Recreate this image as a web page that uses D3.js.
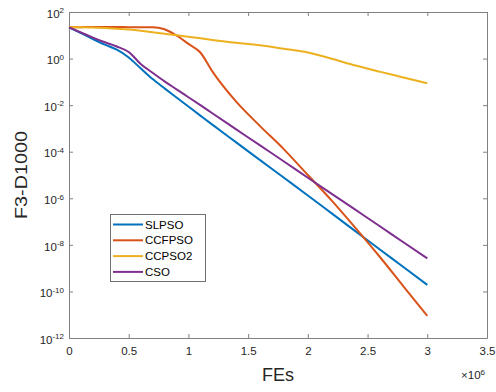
<!DOCTYPE html>
<html>
<head>
<meta charset="utf-8">
<script src="https://cdn.jsdelivr.net/npm/d3@7"></script>
<style>
  html, body { margin: 0; padding: 0; background: #fff; }
  svg { display: block; font-family: "Liberation Sans", Arial, Helvetica, sans-serif; }
</style>
</head>
<body>
<svg id="chart" width="496" height="392"></svg>
<script>
// Function evaluations at which the best fitness was recorded
const fes = [0, 1e5, 2e5, 3e5, 4e5, 5e5, 6e5, 7e5, 8e5, 9e5, 1e6, 1.1e6, 1.2e6,
             1.4e6, 1.6e6, 1.8e6, 2.0e6, 2.2e6, 2.4e6, 2.6e6, 2.8e6, 3.0e6];

// Best fitness per algorithm
const slpso  = [2.19e1, 1.23e1, 6.92, 3.98, 2.40, 1.12, 3.80e-1, 1.32e-1, 5.25e-2, 2.14e-2, 8.71e-3, 3.55e-3, 1.45e-3,
                2.51e-4, 4.37e-5, 7.59e-6, 1.32e-6, 2.24e-7, 3.80e-8, 6.46e-9, 1.12e-9, 1.91e-10];
const ccfpso = [2.19e1, 2.24e1, 2.29e1, 2.29e1, 2.29e1, 2.24e1, 2.24e1, 2.24e1, 1.82e1, 9.77, 4.27, 1.82, 2.82e-1,
                1.41e-2, 1.26e-3, 1.26e-4, 1.00e-5, 7.94e-7, 5.25e-8, 3.16e-9, 1.66e-10, 8.91e-12];
const ccpso2 = [2.24e1, 2.24e1, 2.14e1, 2.04e1, 1.91e1, 1.78e1, 1.55e1, 1.35e1, 1.17e1, 1.00e1, 8.71, 7.41, 6.31,
                4.79, 3.72, 2.63, 1.82, 9.77e-1, 5.01e-1, 2.75e-1, 1.55e-1, 8.71e-2];
const cso    = [2.19e1, 1.32e1, 7.94, 5.01, 3.31, 1.91, 5.89e-1, 2.45e-1, 1.05e-1, 4.79e-2, 2.19e-2, 1.00e-2, 4.47e-3,
                9.12e-4, 1.86e-4, 3.80e-5, 7.59e-6, 1.55e-6, 3.16e-7, 6.46e-8, 1.29e-8, 2.63e-9];

const seriesNames = ["SLPSO", "CCFPSO", "CCPSO2", "CSO"];
const seriesColors = ["#0072BD", "#D95319", "#EDB120", "#7E2F8E"];
const seriesData = [slpso, ccfpso, ccpso2, cso];

const xTicks = [0, 5e5, 1e6, 1.5e6, 2e6, 2.5e6, 3e6, 3.5e6];
const yTicks = [1e2, 1e0, 1e-2, 1e-4, 1e-6, 1e-8, 1e-10, 1e-12];

const xLabel = "FEs";
const yLabel = "F3-D1000";

const svg = d3.select("#chart");
const plotLeft = 69, plotRight = 487, plotTop = 12, plotBottom = 338;

const x = d3.scaleLinear().domain([0, 3.5e6]).range([plotLeft, plotRight]);
const y = d3.scaleLog().domain([1e-12, 1e2]).range([plotBottom, plotTop]);

const axisColor = "#808080";
const textColor = "#262626";

function styleAxis(g) {
  g.selectAll("path.domain").attr("stroke", axisColor).attr("stroke-width", 1);
  g.selectAll(".tick line").attr("stroke", axisColor).attr("stroke-width", 1);
  g.selectAll(".tick text").attr("fill", textColor).style("font-size", "11.5px")
    .style("font-family", '"Liberation Sans", Arial, sans-serif');
}

// Bottom axis with inward ticks
const gx = svg.append("g").attr("transform", `translate(0,${plotBottom})`)
  .call(d3.axisBottom(x).tickValues(xTicks).tickSizeInner(-4).tickSizeOuter(0).tickPadding(9)
    .tickFormat(d => d3.format("~g")(d / 1e6)));
styleAxis(gx);

// Top axis (ticks only)
const gxt = svg.append("g").attr("transform", `translate(0,${plotTop})`)
  .call(d3.axisTop(x).tickValues(xTicks).tickSizeInner(-4).tickSizeOuter(0).tickFormat(""));
styleAxis(gxt);

// Left axis with power-of-ten labels
const gy = svg.append("g").attr("transform", `translate(${plotLeft},0)`)
  .call(d3.axisLeft(y).tickValues(yTicks).tickSizeInner(-4).tickSizeOuter(0).tickPadding(5)
    .tickFormat(() => ""));
styleAxis(gy);
gy.selectAll(".tick text").each(function (d) {
  const t = d3.select(this).attr("dy", "0.45em");
  t.append("tspan").text("10");
  t.append("tspan").attr("dy", "-0.55em").style("font-size", "8px").text(String(Math.round(Math.log10(d))));
});

// Right axis (ticks only)
const gyr = svg.append("g").attr("transform", `translate(${plotRight},0)`)
  .call(d3.axisRight(y).tickValues(yTicks).tickSizeInner(-4).tickSizeOuter(0).tickFormat(""));
styleAxis(gyr);

// Convergence curves
const line = d3.line().curve(d3.curveMonotoneX).x((d, i) => x(fes[i])).y(d => y(d));
svg.append("g").selectAll("path.series")
  .data(seriesData)
  .join("path")
  .attr("class", "series")
  .attr("fill", "none")
  .attr("stroke", (d, i) => seriesColors[i])
  .attr("stroke-width", 2)
  .attr("stroke-linejoin", "round")
  .attr("d", line);

// Axis titles
svg.append("text")
  .attr("x", (plotLeft + plotRight) / 2).attr("y", 381)
  .attr("text-anchor", "middle").attr("fill", textColor)
  .style("font-size", "18px").text(xLabel);

svg.append("text")
  .attr("transform", `translate(27,${(plotTop + plotBottom) / 2}) rotate(-90)`)
  .attr("text-anchor", "middle").attr("fill", textColor)
  .attr("textLength", 88).attr("lengthAdjust", "spacingAndGlyphs")
  .style("font-size", "17px").text(yLabel);

// Exponent note for the x axis
const expo = svg.append("text")
  .attr("x", 485).attr("y", 379)
  .attr("text-anchor", "end").attr("fill", textColor)
  .style("font-size", "11.5px");
expo.append("tspan").text("\u00d710");
expo.append("tspan").attr("dy", "-0.55em").style("font-size", "8px").text("6");

// Legend
const legend = svg.append("g");
legend.append("rect")
  .attr("x", 110.5).attr("y", 214.5).attr("width", 95).attr("height", 67)
  .attr("fill", "#fff").attr("stroke", "#707070").attr("stroke-width", 1);
const rows = legend.selectAll("g.row")
  .data(seriesNames)
  .join("g")
  .attr("class", "row")
  .attr("transform", (d, i) => `translate(0,${224.5 + i * 15.8})`);
rows.append("line")
  .attr("x1", 113).attr("x2", 143).attr("y1", 0).attr("y2", 0)
  .attr("stroke", (d, i) => seriesColors[i]).attr("stroke-width", 2);
rows.append("text")
  .attr("x", 145).attr("y", 4)
  .attr("fill", "#000").style("font-size", "11.5px")
  .text(d => d);
</script>
</body>
</html>
